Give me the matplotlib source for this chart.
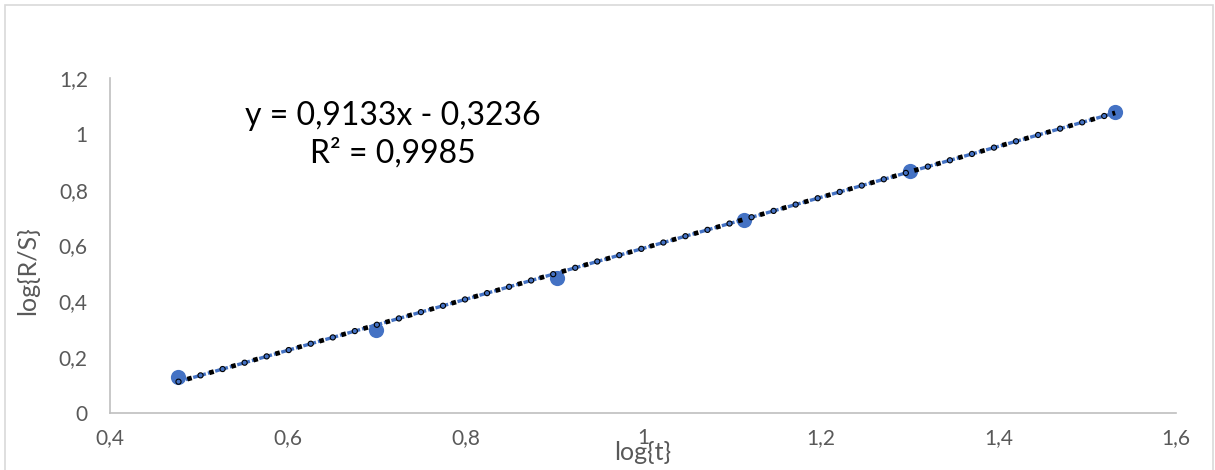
import numpy as np
import matplotlib
matplotlib.use('Agg')
import matplotlib.pyplot as plt
from matplotlib.patches import Rectangle

# measured data: log(t) vs log(R/S)
log_t = [0.4771, 0.6990, 0.9031, 1.1139, 1.3010, 1.5315]
log_rs = [0.129, 0.297, 0.4835, 0.691, 0.867, 1.078]
slope, intercept = 0.9133, -0.3236
eq_text = 'y = 0,9133x - 0,3236\nR² = 0,9985'
x_ticks = [0.4, 0.6, 0.8, 1.0, 1.2, 1.4, 1.6]
y_ticks = [0, 0.2, 0.4, 0.6, 0.8, 1.0, 1.2]

plt.rcParams['font.family'] = ['Lato', 'DejaVu Sans']
plt.rcParams['lines.scale_dashes'] = False

blue = '#4472C4'
grey = '#595959'

def fmt(v):
    s = ('%g' % v).replace('.', ',')
    return s

fig = plt.figure(figsize=(12.15, 4.7), dpi=100)
fig.patches.append(Rectangle((5/1215, -0.1), 1208/1215, 1.1 - 5/470, transform=fig.transFigure,
                             fill=False, edgecolor='#D9D9D9', linewidth=1.2))
ax = fig.add_axes([110/1215, 57/470, 1066/1215, 335/470])

ax.scatter(log_t, log_rs, s=120, color=blue, zorder=2, linewidths=0)

# trendline drawn Excel-style (round dots + squares)
xl = np.array([log_t[0], log_t[-1]])
yl = slope*xl + intercept
ax.plot(xl, yl, color=blue, lw=2.4, linestyle=(0, (4, 1.5)), zorder=3)
ax.plot(xl, yl, color='black', lw=4.6, linestyle=(0, (0.01, 16.5)), dash_capstyle='round', zorder=4)
ax.plot(xl, yl, color=blue, lw=3.0, linestyle=(0, (0.01, 16.5)), dash_capstyle='round', zorder=5)
ax.plot(xl, yl, color='black', lw=3.4, linestyle=(9.9, (3.3, 13.2)), dash_capstyle='butt', zorder=5)

ax.set_xlim(0.4, 1.6)
ax.set_ylim(0, 1.2)
ax.set_xticks(x_ticks)
ax.set_yticks(y_ticks)
ax.set_xticklabels([fmt(v) for v in x_ticks])
ax.set_yticklabels([fmt(v) for v in y_ticks])
ax.tick_params(length=0, labelsize=15, colors=grey)
ax.tick_params(axis='x', pad=11)
ax.tick_params(axis='y', pad=16)
for s in ['top', 'right']:
    ax.spines[s].set_visible(False)
for s in ['left', 'bottom']:
    ax.spines[s].set_color('#BFBFBF')
    ax.spines[s].set_linewidth(1.2)

fig.text(643/1215, 1 - 452/470, 'log{t}', ha='center', va='center', fontsize=18, color=grey)
fig.text(28/1215, 1 - 271/470, 'log{R/S}', ha='center', va='center', rotation=90, fontsize=18, color=grey)

ax.text(393/1215, 1 - 135/470, eq_text, transform=fig.transFigure, ha='center', va='center',
        fontsize=23, color='black', linespacing=1.3)

fig.savefig('out.png', dpi=100)
